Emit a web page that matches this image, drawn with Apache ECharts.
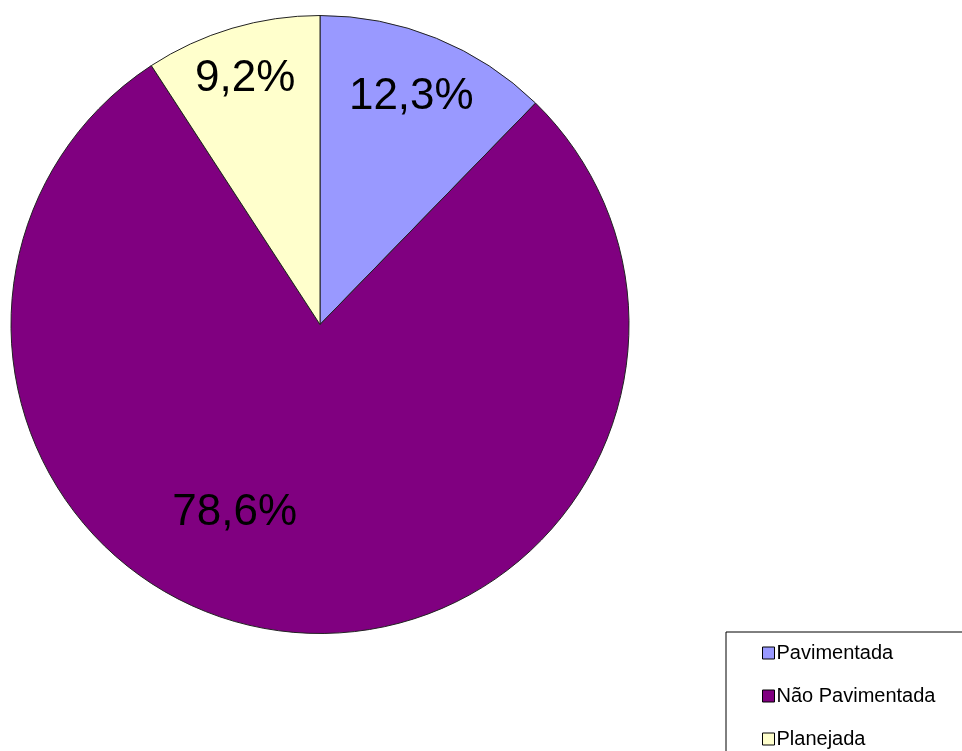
<!DOCTYPE html>
<html>
<head>
<meta charset="utf-8">
<script src="https://cdn.jsdelivr.net/npm/echarts@6/dist/echarts.min.js"></script>
<style>
html,body{margin:0;padding:0;background:#fff;overflow:hidden;}
#c{width:962px;height:751px;}
</style>
</head>
<body>
<div id="c"></div>
<script>
var categories = ['Pavimentada', 'Não Pavimentada', 'Planejada'];
var values = [12.3, 78.6, 9.2];
var colors = ['#9999FF', '#800080', '#FFFFCC'];
var labelShift = [[32, -82], [-70, 32], [-30, -95]];

var chart = echarts.init(document.getElementById('c'));
var FONT = '"Liberation Sans", Arial, sans-serif';
chart.setOption({
  backgroundColor: '#fff',
  animation: false,
  legend: {
    orient: 'vertical',
    left: 726,
    top: 632,
    width: 260,
    height: 160,
    padding: [11, 40, 30, 36],
    itemGap: 23,
    itemWidth: 12,
    itemHeight: 12,
    icon: 'rect',
    borderColor: '#000',
    borderWidth: 1,
    itemStyle: { borderColor: '#000', borderWidth: 1 },
    textStyle: { color: '#000', fontSize: 20, fontFamily: FONT, padding: [0, 0, 0, -3] },
    data: categories
  },
  series: [{
    type: 'pie',
    center: [320, 324.5],
    radius: 309,
    startAngle: 90,
    clockwise: true,
    avoidLabelOverlap: false,
    itemStyle: { borderColor: '#222', borderWidth: 1 },
    label: {
      show: true,
      position: 'inside',
      color: '#000',
      fontSize: 44,
      fontFamily: FONT,
      formatter: function (p) { return p.value.toFixed(1).replace('.', ',') + '%'; }
    },
    labelLine: { show: false },
    labelLayout: function (p) {
      return { dx: labelShift[p.dataIndex][0], dy: labelShift[p.dataIndex][1] };
    },
    emphasis: { disabled: true },
    data: categories.map(function (c, i) {
      return { name: c, value: values[i], itemStyle: { color: colors[i] } };
    })
  }]
});
</script>
</body>
</html>
